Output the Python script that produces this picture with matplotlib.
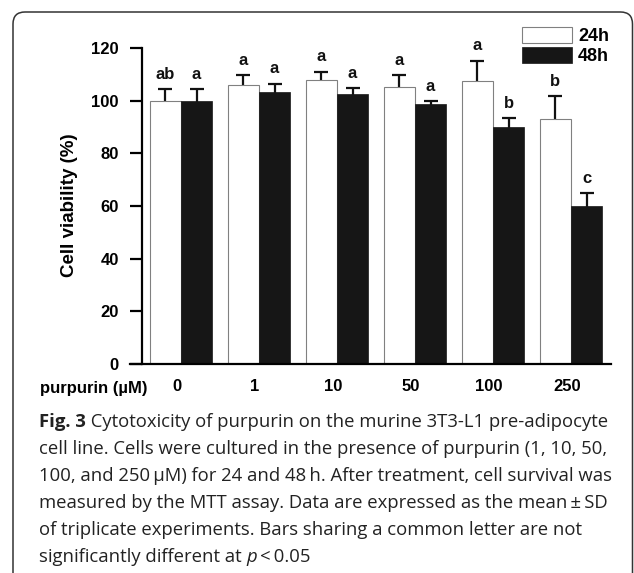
import numpy as np
import matplotlib
matplotlib.use("Agg")
import matplotlib.pyplot as plt
from matplotlib.patches import FancyBboxPatch
from matplotlib.transforms import IdentityTransform

plt.rcParams['font.family'] = ['Liberation Sans', 'DejaVu Sans']

# data
doses = ['0', '1', '10', '50', '100', '250']
mean_24h = [100.0, 105.9, 107.7, 105.3, 107.6, 93.0]
sd_24h = [4.3, 3.8, 3.3, 4.4, 7.6, 8.8]
mean_48h = [100.0, 103.2, 102.4, 98.6, 89.9, 60.0]
sd_48h = [4.3, 3.2, 2.3, 1.3, 3.5, 4.8]
letters_24h = ['ab', 'a', 'a', 'a', 'a', 'b']
letters_48h = ['a', 'a', 'a', 'a', 'b', 'c']

caption = [
    [("Fig. 3", 'bold', 'normal'),
     (" Cytotoxicity of purpurin on the murine 3T3-L1 pre-adipocyte", 'normal', 'normal')],
    [("cell line. Cells were cultured in the presence of purpurin (1, 10, 50,", 'normal', 'normal')],
    [("100, and 250\u2009\u00b5M) for 24 and 48\u2009h. After treatment, cell survival was", 'normal', 'normal')],
    [("measured by the MTT assay. Data are expressed as the mean\u2009\u00b1\u2009SD", 'normal', 'normal')],
    [("of triplicate experiments. Bars sharing a common letter are not", 'normal', 'normal')],
    [("significantly different at ", 'normal', 'normal'), ("p", 'normal', 'italic'),
     ("\u2009<\u20090.05", 'normal', 'normal')],
]

W, H = 634, 573
fig = plt.figure(figsize=(W / 100, H / 100), dpi=100)
ax = fig.add_axes([130 / W, 1 - 364 / H, 481 / W, 316 / H])

x = np.arange(len(doses))
w = 0.4
ax.bar(x - w / 2, mean_24h, w, color='white', edgecolor='#808080', linewidth=0.8, label='24h', zorder=2)
ax.bar(x + w / 2, mean_48h, w, color='#161616', edgecolor='#161616', linewidth=0.5, label='48h', zorder=2)
ax.errorbar(x - w / 2, mean_24h, yerr=sd_24h, fmt='none', ecolor='#111111',
            elinewidth=1.6, capsize=5, capthick=1.6, zorder=1)
ax.errorbar(x + w / 2, mean_48h, yerr=sd_48h, fmt='none', ecolor='#111111',
            elinewidth=1.6, capsize=5, capthick=1.6, zorder=1)

for i in range(len(doses)):
    ax.annotate(letters_24h[i], xy=(x[i] - w / 2, mean_24h[i] + sd_24h[i]), xytext=(0, 7.5),
                textcoords='offset points', ha='center', va='baseline', fontsize=12,
                fontweight='bold', color='#111111', annotation_clip=False)
    ax.annotate(letters_48h[i], xy=(x[i] + w / 2, mean_48h[i] + sd_48h[i]), xytext=(0, 7.5),
                textcoords='offset points', ha='center', va='baseline', fontsize=12,
                fontweight='bold', color='#111111', annotation_clip=False)

ax.set_xlim(-0.654, 5.513)
ax.set_ylim(0, 120)
ax.spines['top'].set_visible(False)
ax.spines['right'].set_visible(False)
ax.spines['left'].set_position(('data', -0.5))
ax.spines['left'].set_linewidth(1.6)
ax.spines['bottom'].set_linewidth(1.6)
ax.set_yticks(np.arange(0, 121, 20))
ax.tick_params(axis='y', direction='out', length=8.6, width=1.6, pad=8, labelsize=12)
ax.set_xticks(x - 0.05)
ax.set_xticklabels(doses)
ax.tick_params(axis='x', length=0, pad=10.5, labelsize=12)
for lab in ax.get_xticklabels() + ax.get_yticklabels():
    lab.set_fontweight('bold')

fig.text(148 / W, 1 - 388 / H, 'purpurin (\u00b5M)', ha='right', va='center',
         fontsize=12, fontweight='bold')
fig.text(70 / W, 1 - 205 / H, 'Cell viability (%)', rotation=90, ha='center', va='center',
         fontsize=13.5, fontweight='bold')

ax.legend(loc='upper left', bbox_to_anchor=(522 / W, 1 - 27 / H), bbox_transform=fig.transFigure,
          frameon=False, borderpad=0, borderaxespad=0, handlelength=2.76, handleheight=0.98,
          handletextpad=0.35, labelspacing=0.12, prop={'weight': 'bold', 'size': 13})

# caption, built piece by piece so bold / italic runs line up
cap_font = ['Open Sans', 'DejaVu Sans']
cap_size = 13.3
y0 = 427
for k, line in enumerate(caption):
    yb = 1 - (y0 + 27 * k) / H
    prev = None
    for s, wt, st in line:
        if prev is None:
            prev = fig.text(39 / W, yb, s, ha='left', va='baseline', fontsize=cap_size,
                            family=cap_font, fontweight=wt, fontstyle=st, color='#222222')
        else:
            prev = ax.annotate(s, xy=(1, yb), xycoords=(prev, 'figure fraction'),
                               ha='left', va='baseline', fontsize=cap_size, family=cap_font,
                               fontweight=wt, fontstyle=st, color='#222222',
                               annotation_clip=False)

# rounded frame around the panel
frame = FancyBboxPatch((13, -30), 619.5, H - 12 + 30, boxstyle='round,pad=0,rounding_size=12',
                       transform=IdentityTransform(), facecolor='none', edgecolor='#333333',
                       linewidth=1.1)
fig.patches.append(frame)

fig.savefig('out.png', dpi=100)
